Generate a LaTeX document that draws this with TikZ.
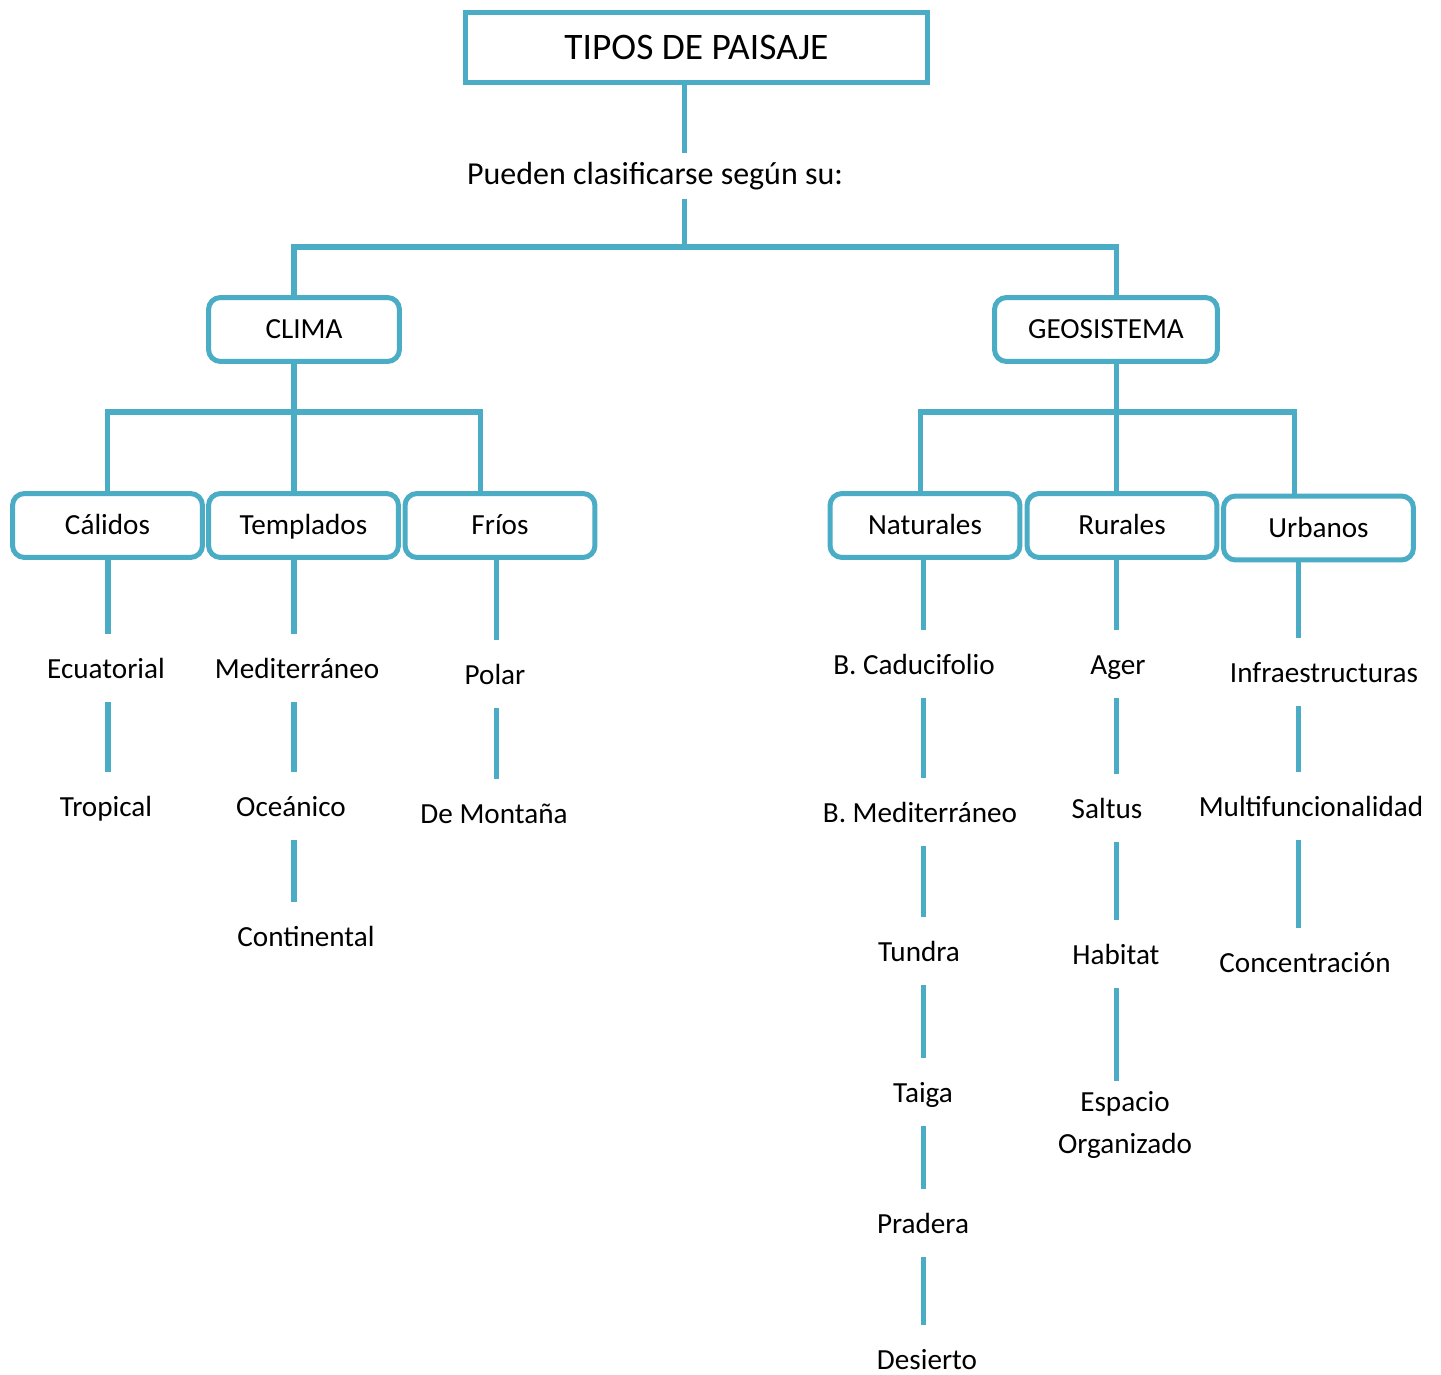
\documentclass[tikz,border=0pt]{standalone}
\usepackage{fontspec}
\setmainfont{Carlito}
\usepackage{xcolor}
\usepackage{tikz}
\definecolor{azul}{HTML}{4BACC6}
\tikzstyle{titlebox} = [rectangle, minimum width=9.24cm, minimum height=1.4cm, text centered, draw=azul, line width=2.85pt, font=\fontsize{21.3}{25}\selectfont]
\tikzstyle{catbox} = [rectangle, rounded corners=0.24cm, minimum width=3.8cm, minimum height=1.28cm, text height=0.5cm, text depth=0.12cm, text centered, draw=azul, line width=2.85pt, font=\fontsize{16.6}{20}\selectfont]
\tikzstyle{leaf} = [inner sep=0pt, text height=0.88cm, text depth=0.46cm, font=\fontsize{16.6}{20}\selectfont]
\tikzstyle{conn} = [draw=azul, line width=2.85pt]

\begin{document}
\begin{tikzpicture}[x=0.02cm, y=-0.02cm]
        \useasboundingbox (0,0) rectangle (1441,1375);

        \node (tipos) [titlebox] at (696.5,47.5) {TIPOS DE PAISAJE};
        \node (pueden) [inner sep=0pt, minimum height=0.92cm, font=\fontsize{18.2}{22}\selectfont] at (655,176) {Pueden clasificarse según su:};

        \node (clima) [catbox, minimum width=3.82cm] at (304,329.5) {CLIMA};
        \node (geo) [catbox, minimum width=4.46cm] at (1106,329.5) {GEOSISTEMA};

        \node (cal) [catbox] at (107.5,525.5) {Cálidos};
        \node (tem) [catbox] at (303.5,525.5) {Templados};
        \node (fri) [catbox] at (500,525.5) {Fríos};
        \node (nat) [catbox] at (925,525.5) {Naturales};
        \node (rur) [catbox] at (1122,525.5) {Rurales};
        \node (urb) [catbox] at (1318.5,528) {Urbanos};

        % clima
        \node (ecu) [leaf] at (106,668) {Ecuatorial};
        \node (tro) [leaf] at (106,806) {Tropical};
        \node (med) [leaf] at (297,668) {Mediterráneo};
        \node (oce) [leaf] at (291,806) {Oceánico};
        \node (con) [leaf] at (306,936) {Continental};
        \node (pol) [leaf] at (495,674) {Polar};
        \node (mon) [leaf] at (494,813) {De Montaña};

        % geosistema
        \node (cad) [leaf] at (914,664) {B. Caducifolio};
        \node (bmed) [leaf] at (920,812) {B. Mediterráneo};
        \node (tun) [leaf] at (919,951) {Tundra};
        \node (tai) [leaf] at (923,1092) {Taiga};
        \node (pra) [leaf] at (923,1223) {Pradera};
        \node (des) [leaf] at (927,1359) {Desierto};
        \node (ager) [leaf] at (1118,664) {Ager};
        \node (sal) [leaf] at (1107,808) {Saltus};
        \node (hab) [leaf] at (1116,954) {Habitat};
        \node (esp) [inner sep=0.2cm, align=center, font=\fontsize{16.6}{24}\selectfont] at (1125,1125) {Espacio\\Organizado};
        \node (inf) [leaf] at (1324,672) {Infraestructuras};
        \node (mul) [leaf] at (1311,806) {Multifuncionalidad};
        \node (cnc) [leaf] at (1305,962) {Concentración};

        \coordinate (hub) at (684,247);
        \coordinate (hubC) at (294,412);
        \coordinate (hubG) at (1116,412);
        \coordinate (xCal) at (108,0);
        \coordinate (xTem) at (294,0);
        \coordinate (xFri) at (496,0);
        \coordinate (xNat) at (923,0);
        \coordinate (xRur) at (1116,0);
        \coordinate (xUrb) at (1298,0);

        \draw [conn] (tipos.south -| hub) -- (pueden.north -| hub);
        \draw [conn] (pueden.south -| hub) -- (hub);
        \draw [conn] (clima.north -| hubC) |- (hub) -| (geo.north -| hubG);

        \draw [conn] (clima.south -| hubC) -- (hubC);
        \draw [conn] (cal.north) |- (hubC) -| ([xshift=-0.4cm]fri.north);
        \draw [conn] (tem.north -| hubC) -- (hubC);

        \draw [conn] (geo.south -| hubG) -- (hubG);
        \draw [conn] ([xshift=-0.1cm]nat.north) |- (hubG) -| ([xshift=-0.49cm]urb.north);
        \draw [conn] (rur.north -| hubG) -- (hubG);

        \foreach \a/\b/\c in {cal/ecu/xCal, ecu/tro/xCal, tem/med/xTem, med/oce/xTem, oce/con/xTem,
                fri/pol/xFri, pol/mon/xFri, nat/cad/xNat, cad/bmed/xNat, bmed/tun/xNat, tun/tai/xNat,
                tai/pra/xNat, pra/des/xNat, rur/ager/xRur, ager/sal/xRur, sal/hab/xRur, hab/esp/xRur,
                urb/inf/xUrb, inf/mul/xUrb, mul/cnc/xUrb}
            \draw [conn] (\a.south -| \c) -- (\b.north -| \c);
    \end{tikzpicture}
\end{document}
